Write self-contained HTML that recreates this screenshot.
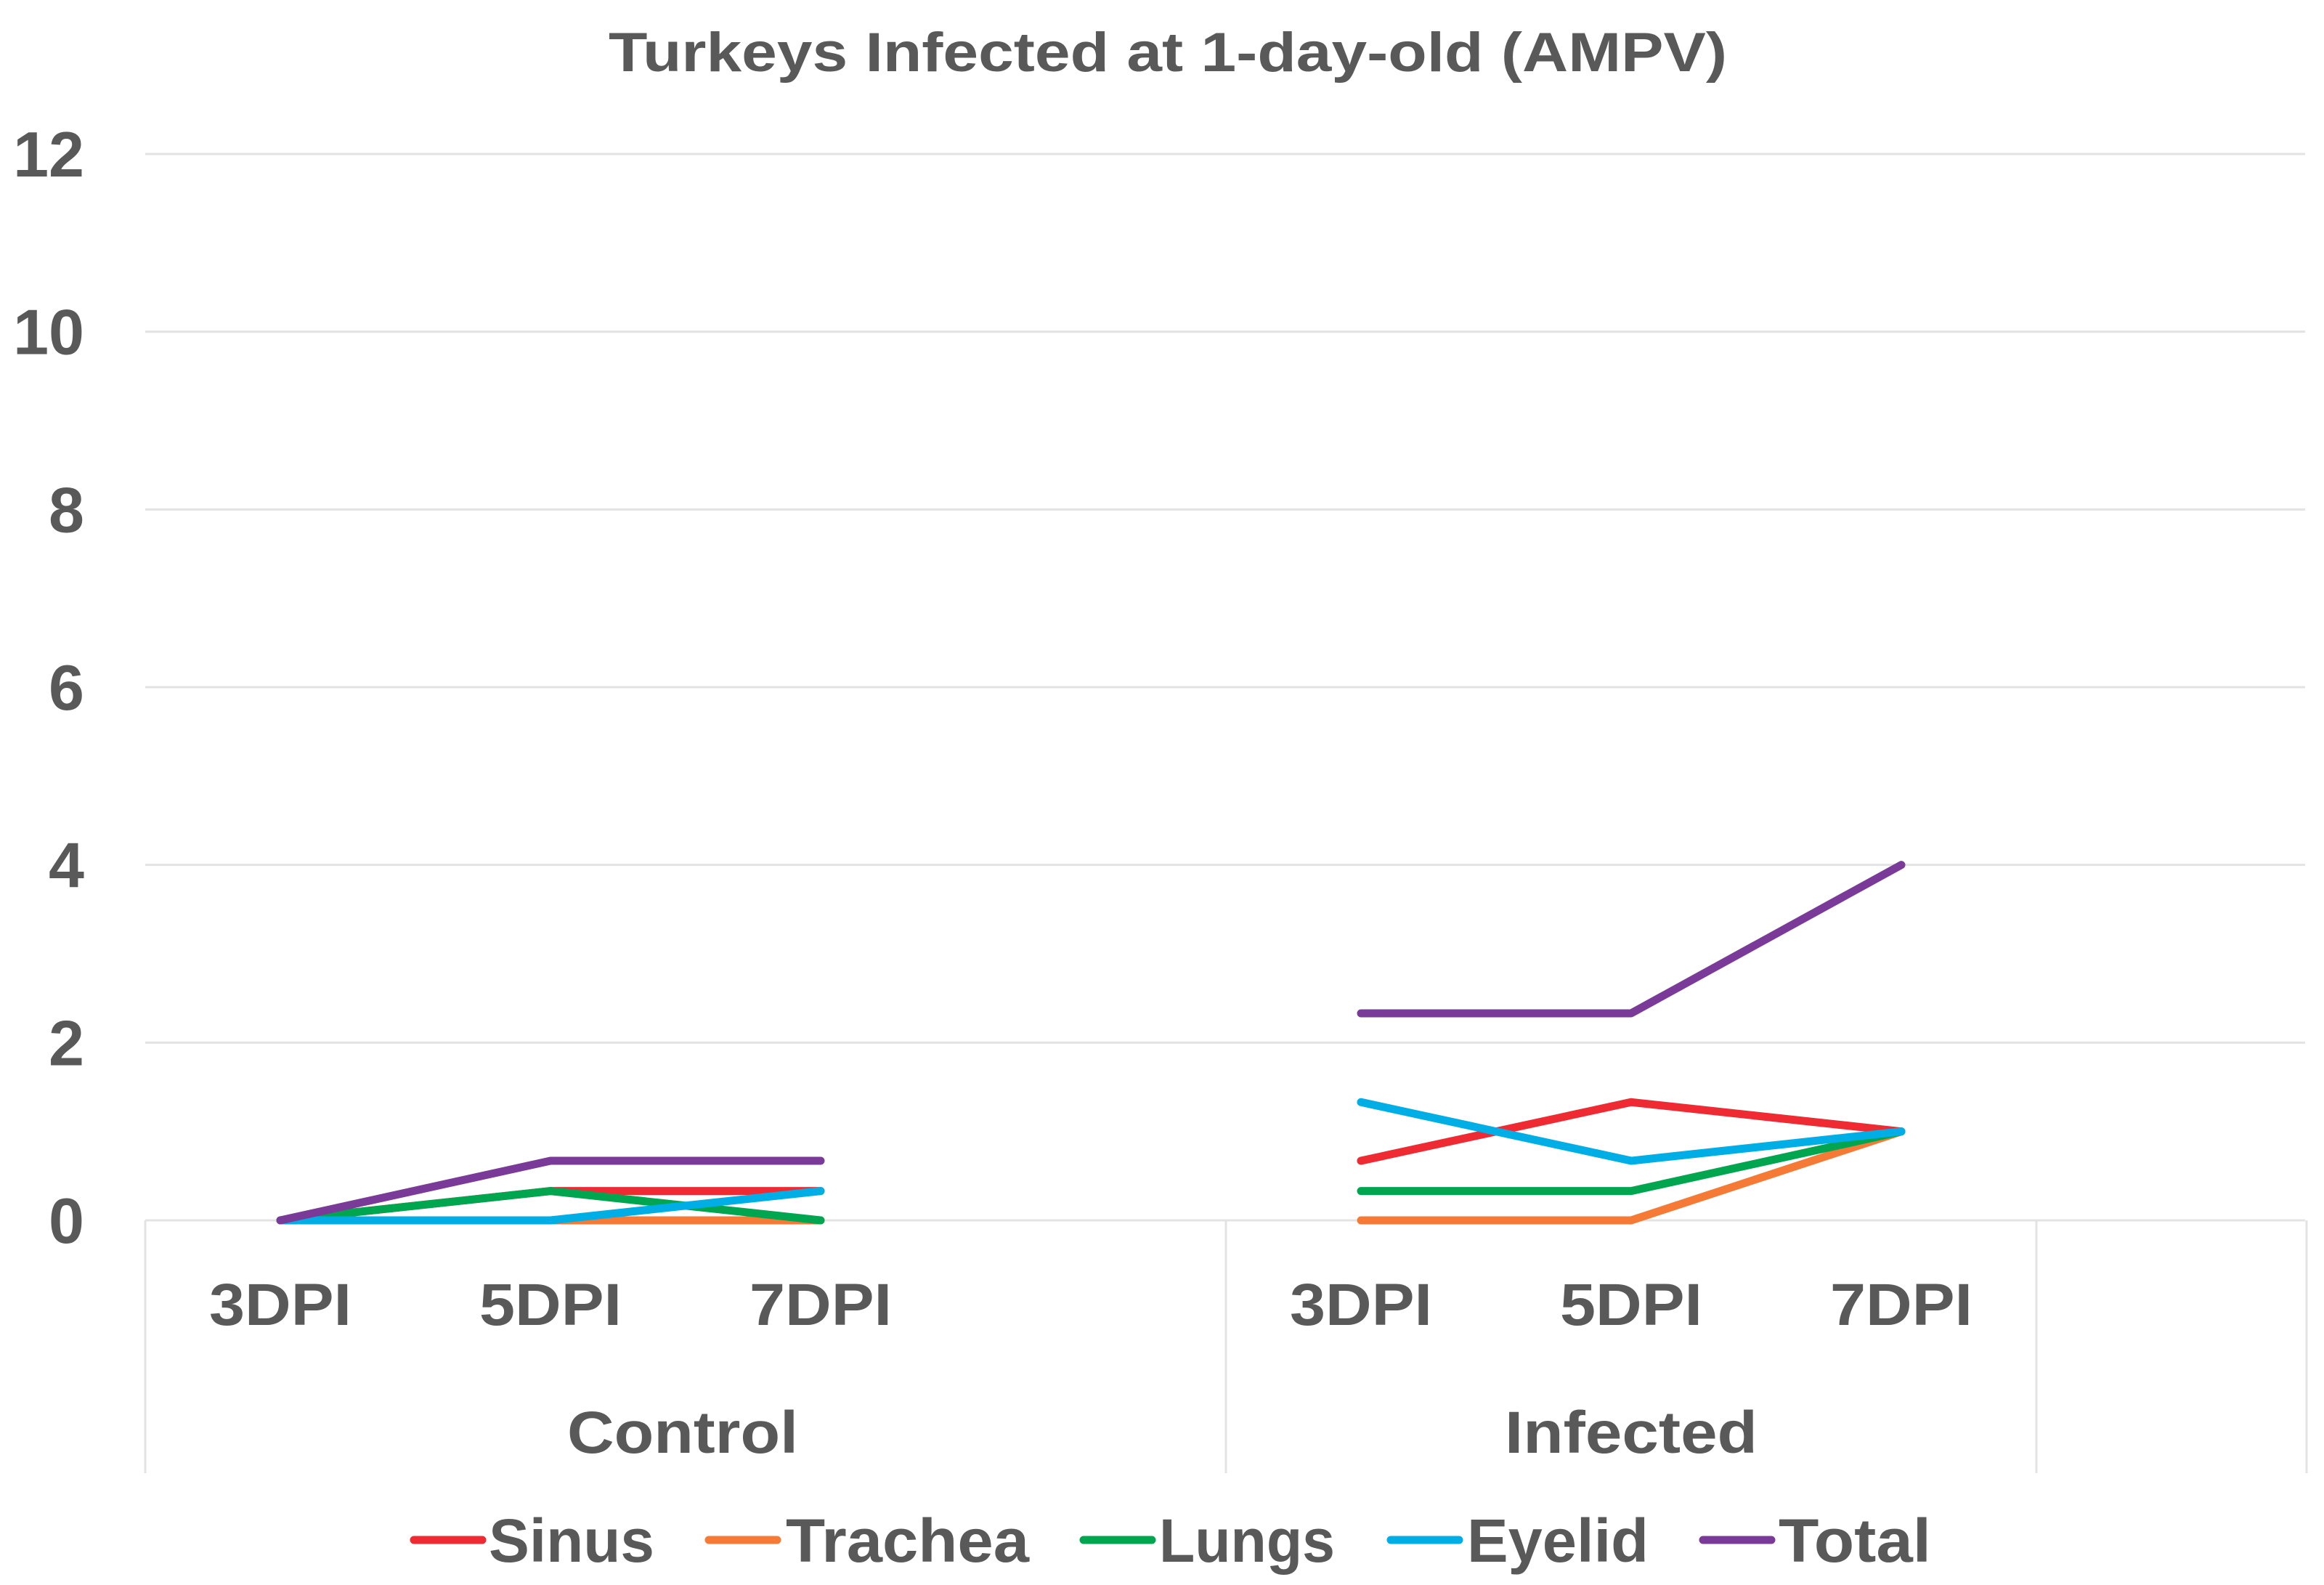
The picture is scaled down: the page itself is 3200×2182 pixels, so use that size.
<!DOCTYPE html>
<html><head><meta charset="utf-8"><style>
html,body{margin:0;padding:0;background:#fff;}
svg{display:block;font-family:"Liberation Sans",sans-serif;font-weight:bold;}
</style></head><body>
<svg id="chart" width="3200" height="2182" viewBox="0 0 3200 2182" xmlns="http://www.w3.org/2000/svg">
<text x="1608" y="98" text-anchor="middle" font-size="76" fill="#595959" textLength="1540" lengthAdjust="spacingAndGlyphs">Turkeys Infected at 1-day-old (AMPV)</text>
<g id="grid"></g><g id="axes"></g><g id="series"></g><g id="legend"></g>
</svg>
<script>
const yTicks = [0, 2, 4, 6, 8, 10, 12];
const categories = ["3DPI","5DPI","7DPI","3DPI","5DPI","7DPI"];
const groups = ["Control","Infected"];
const seriesNames = ["Sinus","Trachea","Lungs","Eyelid","Total"];
const sinus   = [0, 0.33, 0.33, 0.67, 1.33, 1];
const trachea = [0, 0, 0, 0, 0, 1];
const lungs   = [0, 0.33, 0, 0.33, 0.33, 1];
const eyelid  = [0, 0, 0.33, 1.33, 0.67, 1];
const total   = [0, 0.67, 0.67, 2.33, 2.33, 4];

const NS = "http://www.w3.org/2000/svg";
const colors = ["#ee2b33","#f47a36","#00a64f","#00aee6","#7a3b98"];
const left = 200, right = 3174, y0 = 1680, yTop = 212, slot = 372;
const slotIndex = [0,1,2,4,5,6];
function y(v){ return y0 - (v/12)*(y0-yTop); }
function x(i){ return left + slot*(slotIndex[i]+0.5); }
function mk(tag, attrs, parent){ const e=document.createElementNS(NS,tag); for(const k in attrs) e.setAttribute(k,attrs[k]); parent.appendChild(e); return e; }
const grid=document.getElementById('grid'), axes=document.getElementById('axes'), ser=document.getElementById('series'), leg=document.getElementById('legend');
yTicks.forEach(t=>{
  const l=mk('line',{x1:left,x2:right,y1:y(t),y2:y(t),stroke:'#e3e3e3','stroke-width':3},grid);
  
  
  const tx=mk('text',{x:116,y:y(t)+31,'text-anchor':'end','font-size':88,fill:'#595959'},axes);
  tx.textContent=t;
  
  
});
[0,4,7,8].forEach(s=>{
  const l=mk('line',{x1:left+s*slot,x2:left+s*slot,y1:y0,y2:2028,stroke:'#e3e3e3','stroke-width':3},axes);
  
  
});
categories.forEach((c,i)=>{
  const t=mk('text',{x:x(i),y:1824,'text-anchor':'middle','font-size':82,fill:'#595959',textLength:196,lengthAdjust:'spacingAndGlyphs'},axes);
  t.textContent=c;
  
  
});
[[left+2*slot,groups[0],318],[left+5.5*slot,groups[1],348]].forEach(g=>{
  const t=mk('text',{x:g[0]+ (g[1]==="Control"?-4:0),y:2000,'text-anchor':'middle','font-size':82,fill:'#595959',textLength:g[2],lengthAdjust:'spacingAndGlyphs'},axes);
  t.textContent=g[1];
  
  
});
const data=[sinus,trachea,lungs,eyelid,total];
const order=[1,0,2,3,4];
const drawLine=(vals,si,range)=>{
  const pts=range.map(i=>x(i)+','+y(vals[i])).join(' ');
  const p=mk('polyline',{points:pts,fill:'none',stroke:colors[si],'stroke-width':11,'stroke-linejoin':'round','stroke-linecap':'round'},ser);
  
  
};
order.forEach(si=>{ drawLine(data[si],si,[0,1,2]); drawLine(data[si],si,[3,4,5]); });
const legX=[[570,673,228],[976,1082,335],[1492,1596,242],[1915,2020,250],[2345,2449,210]];
seriesNames.forEach((n,i)=>{
  const l=mk('line',{x1:legX[i][0],x2:legX[i][0]+94,y1:2120,y2:2120,stroke:colors[i],'stroke-width':11,'stroke-linecap':'round'},leg);
  
  
  const t=mk('text',{x:legX[i][1],y:2150,'font-size':84,fill:'#595959',textLength:legX[i][2],lengthAdjust:'spacingAndGlyphs'},leg);
  t.textContent=n;
  
  
});
</script>
</body></html>
